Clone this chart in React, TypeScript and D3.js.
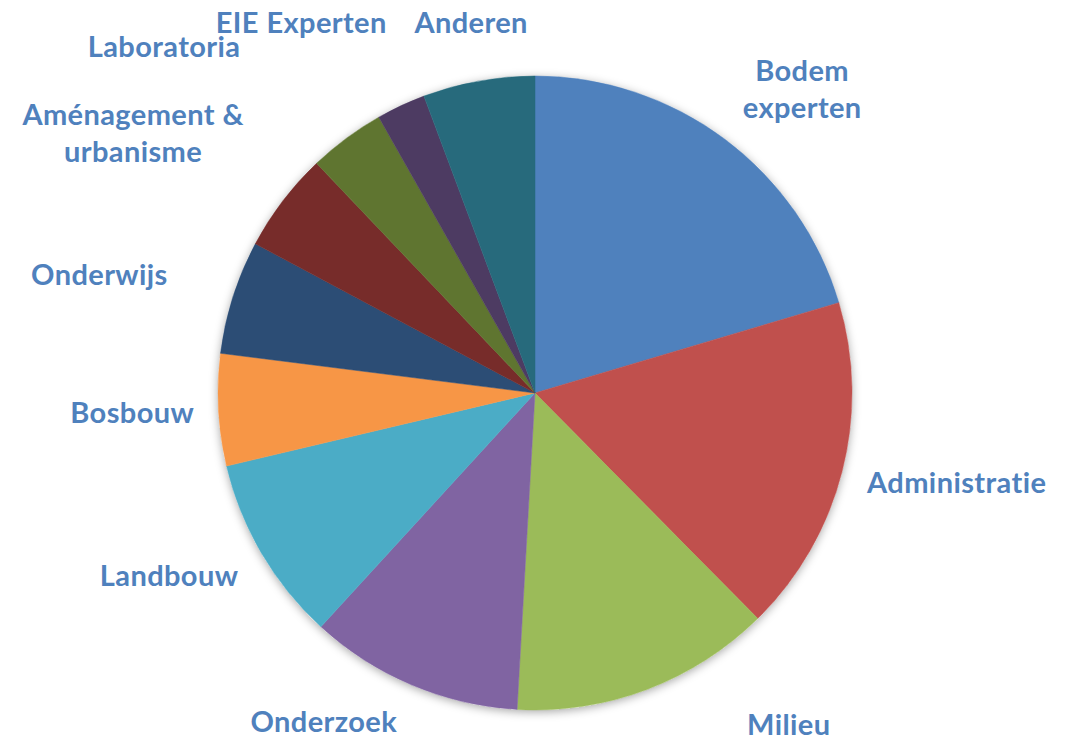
import React from "react";
import * as d3 from "d3";

const categories = [
  "Bodem experten",
  "Administratie",
  "Milieu",
  "Onderzoek",
  "Landbouw",
  "Bosbouw",
  "Onderwijs",
  "Aménagement & urbanisme",
  "Laboratoria",
  "EIE Experten",
  "Anderen",
];
const values = [20.4, 17.2, 13.3, 10.9, 9.5, 5.7, 5.8, 5.1, 3.9, 2.5, 5.7];
const colors = [
  "#4F81BD", "#C0504D", "#9BBB59", "#8064A2", "#4BACC6", "#F79646",
  "#2C4D75", "#772C2A", "#5F7530", "#4D3B62", "#276A7C",
];
// label lines (wrapped as in the reference)
const labelLines = [
  ["Bodem", "experten"],
  ["Administratie"],
  ["Milieu"],
  ["Onderzoek"],
  ["Landbouw"],
  ["Bosbouw"],
  ["Onderwijs"],
  ["Aménagement &", "urbanisme"],
  ["Laboratoria"],
  ["EIE Experten"],
  ["Anderen"],
];
// label placement: polar angle (deg, clockwise from top) and radius factor
const labelAngle = [41.3, 102, 142.6, 212.7, 243.4, 267.2, 285.2, 302.9, 313, 327.7, 350.2];
const labelRadius = [1.277, 1.36, 1.318, 1.233, 1.291, 1.272, 1.424, 1.51, 1.6, 1.38, 1.184];

const W = 1066;
const H = 741;
const cx = 535;
const cy = 393;
const R = 317;

export default function App() {
  const pie = d3.pie<number>().sort(null).value((d) => d)(values);
  const arc = d3.arc<d3.PieArcDatum<number>>().innerRadius(0).outerRadius(R);
  const fontSize = 29;
  const lineH = 37;
  return (
    <svg
      width={W}
      height={H}
      style={{ position: "absolute", left: 0, top: 0, background: "#fff" }}
    >
      <defs>
        <filter id="sh" x="-20%" y="-20%" width="140%" height="140%">
          <feDropShadow dx="0" dy="2" stdDeviation="5" floodColor="#000" floodOpacity="0.35" />
        </filter>
      </defs>
      <g transform={`translate(${cx},${cy})`}>
        <circle r={R} fill="#fff" filter="url(#sh)" />
        {pie.map((p, i) => (
          <path key={i} d={arc(p) || ""} fill={colors[i]} stroke={colors[i]} strokeWidth={0.5} />
        ))}
        {labelLines.map((lines, i) => {
          const a = (labelAngle[i] * Math.PI) / 180;
          const r = R * labelRadius[i];
          const x = r * Math.sin(a);
          const y = -r * Math.cos(a);
          const y0 = y - ((lines.length - 1) * lineH) / 2;
          return (
            <text
              key={i}
              x={x}
              textAnchor="middle"
              fontFamily="Lato, 'Open Sans', sans-serif"
              fontWeight="bold"
              fontSize={fontSize}
              letterSpacing={0.4}
              fill="#4F81BD"
            >
              {lines.map((l, j) => (
                <tspan key={j} x={x} y={y0 + j * lineH} dy="0.35em">
                  {l}
                </tspan>
              ))}
            </text>
          );
        })}
      </g>
    </svg>
  );
}
